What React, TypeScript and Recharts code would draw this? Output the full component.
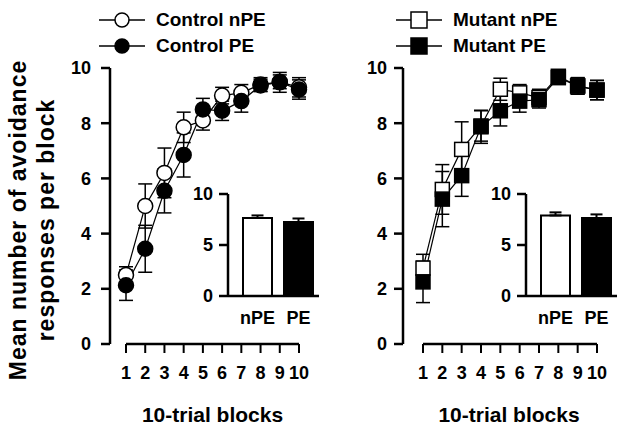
import React from 'react';
import {
  ComposedChart, Line, XAxis, YAxis, ErrorBar, ReferenceLine, Legend,
  BarChart, Bar, Cell,
} from 'recharts';

// 10-trial blocks
const blocks = [1, 2, 3, 4, 5, 6, 7, 8, 9, 10];
const xTicks = [1, 2, 3, 4, 5, 6, 7, 8, 9, 10];
const yTicks = [0, 2, 4, 6, 8, 10];
const insetTicks = [0, 5, 10];

const controlNPE = [2.5, 5.0, 6.2, 7.85, 8.1, 9.0, 9.1, 9.4, 9.5, 9.3];
const controlNPEErr = [0.3, 0.8, 0.9, 0.55, 0.35, 0.3, 0.3, 0.25, 0.25, 0.35];
const controlPE = [2.13, 3.45, 5.55, 6.85, 8.5, 8.45, 8.8, 9.37, 9.48, 9.22];
const controlPEErr = [0.55, 0.85, 0.8, 0.8, 0.4, 0.35, 0.4, 0.22, 0.36, 0.35];

const mutantNPE = [2.75, 5.6, 7.05, 7.9, 9.23, 9.1, 8.93, 9.7, 9.35, 9.2];
const mutantNPEErr = [0.5, 0.9, 1.0, 0.55, 0.4, 0.3, 0.3, 0.2, 0.3, 0.35];
const mutantPE = [2.25, 5.25, 6.1, 7.87, 8.45, 8.8, 8.85, 9.65, 9.35, 9.2];
const mutantPEErr = [0.75, 1.0, 0.75, 0.6, 0.55, 0.4, 0.3, 0.2, 0.3, 0.35];

const groups = ['nPE', 'PE'];
const controlMeans = [7.65, 7.25];
const controlMeanErr = [0.25, 0.35];
const mutantMeans = [7.9, 7.65];
const mutantMeanErr = [0.3, 0.35];

const FONT = '"Liberation Sans", Arial, sans-serif';

const controlData = blocks.map((b, i) => ({
  block: b,
  nPE: controlNPE[i], nPEErr: controlNPEErr[i],
  PE: controlPE[i], PEErr: controlPEErr[i],
}));
const mutantData = blocks.map((b, i) => ({
  block: b,
  nPE: mutantNPE[i], nPEErr: mutantNPEErr[i],
  PE: mutantPE[i], PEErr: mutantPEErr[i],
}));
const controlBars = groups.map((g, i) => ({ group: g, mean: controlMeans[i], err: [0, controlMeanErr[i]] }));
const mutantBars = groups.map((g, i) => ({ group: g, mean: mutantMeans[i], err: [0, mutantMeanErr[i]] }));

const tickStyle = { fill: '#000', fontSize: 18, fontWeight: 700, fontFamily: FONT };

function squareDot(fill: string) {
  return (props: any) => {
    const { cx, cy, index } = props;
    if (cx == null || cy == null) return <g key={index} />;
    return <rect key={index} x={cx - 7} y={cy - 7} width={14} height={14} fill={fill} stroke="#000" strokeWidth={1.5} />;
  };
}

function legendContent(shape: 'circle' | 'square') {
  return (props: any) => {
    // nPE first, as in the figure
    const items = [...(props.payload || [])].sort((a: any, b: any) =>
      (String(a.value).endsWith('nPE') ? 0 : 1) - (String(b.value).endsWith('nPE') ? 0 : 1));
    return (
      <div style={{ fontFamily: FONT, fontWeight: 700, fontSize: 19, color: '#000' }}>
        {items.map((entry: any) => {
          const filled = !String(entry.value).endsWith('nPE');
          return (
            <div key={entry.value} style={{ display: 'flex', alignItems: 'center', height: 26 }}>
              <svg width={46} height={18} style={{ marginRight: 11 }}>
                <line x1={0} y1={9} x2={46} y2={9} stroke="#000" strokeWidth={1.5} />
                {shape === 'circle' ? (
                  <circle cx={23} cy={9} r={7} fill={filled ? '#000' : '#fff'} stroke="#000" strokeWidth={1.5} />
                ) : (
                  <rect x={15} y={1} width={16} height={16} fill={filled ? '#000' : '#fff'} stroke="#000" strokeWidth={1.5} />
                )}
              </svg>
              <span>{entry.value}</span>
            </div>
          );
        })}
      </div>
    );
  };
}

function MainPanel(props: {
  data: any[]; names: [string, string]; shape: 'circle' | 'square';
  left: number; width: number; marginLeft: number; marginRight: number;
  padLeft: number; tickMargin: number; titleDx: number; legendLeft: number;
}) {
  const { data, names, shape } = props;
  const openDot = shape === 'circle'
    ? { r: 7.5, fill: '#fff', stroke: '#000', strokeWidth: 1.5 }
    : squareDot('#fff');
  const fillDot = shape === 'circle'
    ? { r: 7.5, fill: '#000', stroke: '#000', strokeWidth: 1.5 }
    : squareDot('#000');
  return (
    <div style={{ position: 'absolute', left: props.left, top: 0 }}>
      <ComposedChart
        width={props.width}
        height={435}
        data={data}
        margin={{ top: 68, right: props.marginRight, bottom: 51, left: props.marginLeft }}
      >
        <XAxis
          dataKey="block"
          type="number"
          domain={[1, 10]}
          ticks={xTicks}
          interval={0}
          padding={{ left: props.padLeft, right: 0 }}
          axisLine={false}
          tickLine={{ stroke: '#000', strokeWidth: 2 }}
          tickSize={9}
          tickMargin={13}
          height={40}
          tick={tickStyle}
          label={{
            value: '10-trial blocks', position: 'bottom', offset: 23, dx: props.titleDx,
            style: { fill: '#000', fontSize: 21, fontWeight: 700, fontFamily: FONT },
          }}
        />
        <YAxis
          domain={[0, 10]}
          ticks={yTicks}
          interval={0}
          width={40}
          axisLine={{ stroke: '#000', strokeWidth: 2.5 }}
          tickLine={{ stroke: '#000', strokeWidth: 2.5 }}
          tickSize={9}
          tickMargin={props.tickMargin}
          tick={tickStyle}
        />
        <ReferenceLine segment={[{ x: 1, y: 0 }, { x: 10, y: 0 }]} stroke="#000" strokeWidth={2.5} ifOverflow="visible" />
        <Legend
          layout="horizontal"
          verticalAlign="middle"
          align="center"
          wrapperStyle={{ top: 7, left: props.legendLeft, width: 'auto' }}
          content={legendContent(shape)}
        />
        <Line
          dataKey="nPE"
          name={names[0]}
          stroke="#000"
          strokeWidth={1.2}
          dot={openDot as any}
          activeDot={false}
          isAnimationActive={false}
        >
          <ErrorBar dataKey="nPEErr" direction="y" width={7} stroke="#000" strokeWidth={1.5} />
        </Line>
        <Line
          dataKey="PE"
          name={names[1]}
          stroke="#000"
          strokeWidth={1.2}
          dot={fillDot as any}
          activeDot={false}
          isAnimationActive={false}
        >
          <ErrorBar dataKey="PEErr" direction="y" width={7} stroke="#000" strokeWidth={1.5} />
        </Line>
      </ComposedChart>
    </div>
  );
}

function Inset(props: { data: any[]; left: number }) {
  return (
    <div style={{ position: 'absolute', left: props.left, top: 180 }}>
      <BarChart
        width={150}
        height={150}
        data={props.data}
        margin={{ top: 14, right: 11, bottom: 4, left: 8 }}
        barSize={29}
      >
        <XAxis
          dataKey="group"
          padding={{ left: 9, right: 0 }}
          axisLine={{ stroke: '#000', strokeWidth: 2.5 }}
          tickLine={false}
          tickSize={0}
          tickMargin={15}
          height={30}
          tick={tickStyle}
        />
        <YAxis
          domain={[0, 10]}
          ticks={insetTicks}
          interval={0}
          width={40}
          axisLine={{ stroke: '#000', strokeWidth: 2.5 }}
          tickLine={{ stroke: '#000', strokeWidth: 2.5 }}
          tickSize={9}
          tickMargin={6}
          tick={tickStyle}
        />
        <Bar dataKey="mean" stroke="#000" strokeWidth={2} isAnimationActive={false}>
          {props.data.map((d, i) => (
            <Cell key={d.group} fill={i === 0 ? '#fff' : '#000'} />
          ))}
          <ErrorBar dataKey="err" direction="y" width={6} stroke="#000" strokeWidth={2} />
        </Bar>
      </BarChart>
    </div>
  );
}

export default function App() {
  return (
    <div style={{ position: 'relative', width: 624, height: 435, background: '#fff', overflow: 'hidden' }}>
      <style>{'body{margin:0}'}</style>
      <div
        style={{
          position: 'absolute', left: 32, top: 220, width: 360,
          transform: 'translate(-50%, -50%) rotate(-90deg)',
          textAlign: 'center', fontFamily: FONT, fontWeight: 700, fontSize: 23,
          lineHeight: '28px', color: '#000', letterSpacing: 1,
        }}
      >
        Mean number of avoidance<br />responses per block
      </div>
      <MainPanel
        data={controlData}
        names={['Control nPE', 'Control PE']}
        shape="circle"
        left={0}
        width={320}
        marginLeft={70}
        marginRight={21}
        padLeft={16}
        tickMargin={10}
        titleDx={8}
        legendLeft={99}
      />
      <MainPanel
        data={mutantData}
        names={['Mutant nPE', 'Mutant PE']}
        shape="square"
        left={312}
        width={312}
        marginLeft={51}
        marginRight={27}
        padLeft={20}
        tickMargin={7}
        titleDx={9}
        legendLeft={84}
      />
      <Inset data={controlBars} left={180} />
      <Inset data={mutantBars} left={478} />
    </div>
  );
}
